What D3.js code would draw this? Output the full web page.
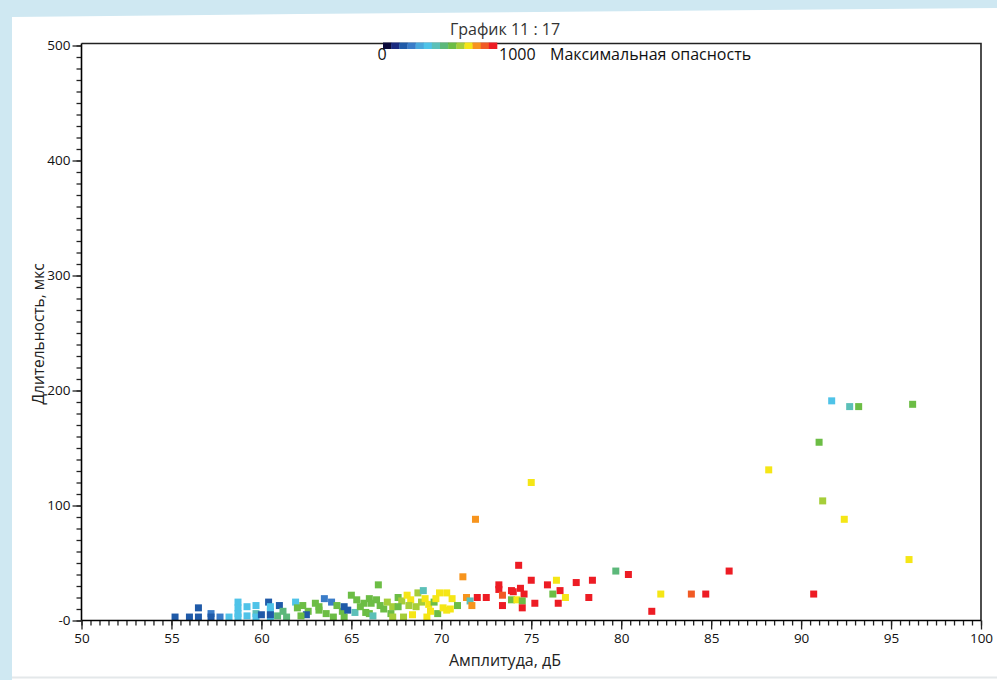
<!DOCTYPE html>
<html>
<head>
<meta charset="utf-8">
<title>График 11 : 17</title>
<script src="https://d3js.org/d3.v7.min.js"></script>
<style>
  body { margin: 0; background: #cfe8f2; }
  text { font-family: "Open Sans", "DejaVu Sans", sans-serif; }
</style>
</head>
<body>
<div id="chart"></div>
<script>
// Chart data
const amplitude = [
  55.2, 56.0, 56.5, 56.5, 57.2, 57.2, 57.7, 58.2, 58.7, 58.7, 58.7, 58.7,
  59.2, 59.2, 59.7, 59.7, 59.7, 60.0, 60.4, 60.5, 60.5, 60.5, 60.5,
  60.9, 61.0, 61.2, 61.4, 61.9, 62.0, 62.3, 62.6, 62.5, 62.2,
  63.0, 63.2, 63.5, 63.9, 63.2, 63.6, 64.0, 64.2, 64.5, 64.6, 64.6, 64.8,
  65.0, 65.3, 65.7, 66.0, 65.2, 65.8, 65.5, 66.0, 66.5, 66.1, 66.4, 66.6, 66.8, 66.2,
  67.0, 67.3, 67.2, 67.3, 67.6, 67.8, 67.6, 67.9, 68.1, 68.3, 68.2, 68.4,
  68.7, 68.9, 68.6, 69.0, 69.1, 69.3, 69.4, 69.2, 69.6, 69.7, 69.8, 69.9,
  70.3, 70.1, 70.3, 70.5, 70.6, 70.9,
  71.2, 71.4, 71.6, 71.7, 72.0, 71.9, 72.5,
  73.2, 73.2, 73.4, 73.9, 74.0, 74.4, 74.6, 74.3, 73.9, 74.2, 74.5, 73.4, 74.5,
  75.2, 75.0, 75.0, 75.9, 76.4, 76.6, 76.2, 76.9, 76.5, 77.5, 78.4, 78.2,
  79.7, 80.4, 81.7, 82.2, 83.9, 84.7, 86.0, 88.2, 90.7, 91.0, 91.2, 91.7,
  92.4, 92.7, 93.2, 96.0, 96.2
];
const duration = [
  3, 3, 11, 3, 6, 3, 3, 3, 16, 11, 6, 3,
  12, 4, 13, 6, 3, 5, 16, 12, 8, 3, 5,
  4, 13, 8, 3, 16, 11, 13, 8, 5, 4,
  15, 12, 19, 16, 9, 6, 3, 13, 8, 3, 12, 9,
  22, 18, 15, 19, 7, 7, 12, 6, 31, 15, 18, 13, 10, 4,
  16, 12, 6, 3, 20, 17, 12, 3, 22, 18, 13, 5,
  24, 16, 12, 26, 19, 14, 8, 3, 16, 19, 6, 24,
  24, 11, 9, 10, 19, 13,
  38, 20, 17, 13, 20, 88, 20,
  31, 27, 22, 26, 25, 28, 23, 48, 18, 18, 17, 13, 11,
  15, 35, 120, 31, 35, 26, 23, 20, 15, 33, 35, 20,
  43, 40, 8, 23, 23, 23, 43, 131, 23, 155, 104, 191,
  88, 186, 186, 53, 188
];
const danger = [
  180, 180, 180, 180, 250, 180, 250, 390, 390, 390, 390, 390,
  390, 390, 390, 460, 390, 180, 180, 390, 390, 390, 180,
  530, 180, 530, 530, 390, 600, 600, 600, 180, 600,
  600, 600, 250, 250, 600, 600, 600, 600, 600, 600, 180, 180,
  600, 600, 600, 600, 460, 600, 600, 600, 600, 600, 600, 600, 600, 460,
  680, 680, 600, 680, 600, 680, 600, 680, 750, 750, 680, 750,
  680, 680, 680, 460, 750, 750, 750, 750, 600, 750, 600, 750,
  750, 750, 750, 750, 750, 600,
  820, 820, 460, 820, 960, 820, 960,
  960, 960, 890, 960, 960, 960, 960, 960, 600, 750, 600, 960, 960,
  960, 960, 750, 960, 750, 960, 600, 750, 960, 960, 960, 960,
  530, 960, 960, 750, 890, 960, 960, 750, 960, 600, 680, 390,
  750, 460, 600, 750, 600
];

const xMajor = [50, 55, 60, 65, 70, 75, 80, 85, 90, 95, 100];
const yMajor = [0, 100, 200, 300, 400, 500];
const yTickLabels = ["-0", "100", "200", "300", "400", "500"];
const dangerColors = ["#0b0b3b", "#1a2a80", "#1f5aa8", "#3a7cc8", "#4aa8dc", "#4fc3e8", "#5cc0b8",
                      "#5cb87a", "#6cbd45", "#a6ce39", "#f5e616", "#f7941d", "#f15a24", "#ed1c24"];

const W = 997, H = 680;
const svg = d3.select("#chart").append("svg").attr("width", W).attr("height", H);

// page background (light blue border of the screenshot)
svg.append("rect").attr("width", W).attr("height", H).attr("fill", "#cfe8f2");
svg.append("path").attr("d", "M12,17 L300,14 L997,8 L997,680 L12,680 Z").attr("fill", "#ffffff");
svg.append("line").attr("x1", 12).attr("x2", W).attr("y1", 677.5).attr("y2", 677.5)
  .attr("stroke", "#e4e8ea").attr("stroke-width", 2);

const x = d3.scaleLinear().domain([50, 100]).range([81.5, 981]);
const y = d3.scaleLinear().domain([0, 500]).range([620.5, 45.5]);
const color = d3.scaleQuantize().domain([0, 1000]).range(dangerColors);

// title
svg.append("text").attr("x", 505).attr("y", 35).attr("text-anchor", "middle")
  .attr("font-size", 16).attr("fill", "#333").text("График 11 : 17");

// frame top and right
svg.append("path").attr("d", "M81.5,43.5 L981,43.5 L981,620.5")
  .attr("fill", "none").attr("stroke", "#222").attr("stroke-width", 1.6);

// points
const pts = amplitude.map((a, i) => ({a: a, d: duration[i], z: danger[i]}));
svg.append("g").selectAll("rect")
  .data(pts)
  .enter()
  .append("rect")
  .attr("x", d => x(d.a) - 3.5)
  .attr("y", d => y(d.d) - 3.5)
  .attr("width", 7)
  .attr("height", 7)
  .attr("fill", d => color(d.z));

// x axis: minor then major
const xMinor = d3.range(50, 100.01, 0.5);
svg.append("g").attr("transform", "translate(0,620.5)")
  .call(d3.axisBottom(x).tickValues(xMinor).tickSize(5).tickFormat(""))
  .call(g => g.select(".domain").remove());
svg.append("g").attr("transform", "translate(0,620.5)")
  .call(d3.axisBottom(x).tickValues(xMajor).tickSize(9).tickPadding(4).tickFormat(d3.format("d")))
  .call(g => g.select(".domain").attr("stroke-width", 1.6).attr("d", "M81.5,0H981"));

// y axis: minor then major
const yMinor = d3.range(0, 500.01, 10);
svg.append("g").attr("transform", "translate(81.5,0)")
  .call(d3.axisLeft(y).tickValues(yMinor).tickSize(5).tickFormat(""))
  .call(g => g.select(".domain").remove());
svg.append("g").attr("transform", "translate(81.5,0)")
  .call(d3.axisLeft(y).tickValues(yMajor).tickSize(9).tickPadding(2)
    .tickFormat((d, i) => yTickLabels[i]))
  .call(g => g.select(".domain").attr("stroke-width", 1.6).attr("d", "M0,43.5V620.5"));

svg.selectAll(".tick line").attr("stroke", "#222").attr("stroke-width", 1.3);
svg.selectAll(".tick text").attr("font-size", 13.5).attr("fill", "#111")
  .attr("font-family", "'Open Sans', sans-serif");

// axis titles
svg.append("text").attr("x", 505).attr("y", 666).attr("text-anchor", "middle")
  .attr("font-size", 16).attr("fill", "#222").text("Амплитуда, дБ");
svg.append("text").attr("transform", "translate(44,334) rotate(-90)").attr("text-anchor", "middle")
  .attr("font-size", 15.5).attr("fill", "#222").text("Длительность, мкс");

// colour legend
const lx = d3.scaleLinear().domain([0, dangerColors.length]).range([383, 497]);
svg.append("g").selectAll("rect")
  .data(dangerColors)
  .enter()
  .append("rect")
  .attr("x", (d, i) => lx(i))
  .attr("y", 42.5)
  .attr("width", (d, i) => lx(i + 1) - lx(i) + 0.3)
  .attr("height", 6.5)
  .attr("fill", d => d);
svg.append("text").attr("x", 382).attr("y", 60).attr("text-anchor", "middle")
  .attr("font-size", 16).attr("fill", "#111").text("0");
svg.append("text").attr("x", 499).attr("y", 60)
  .attr("font-size", 16).attr("fill", "#111").text("1000");
svg.append("text").attr("x", 550).attr("y", 60)
  .attr("font-size", 16).attr("fill", "#111").text("Максимальная опасность");
</script>
</body>
</html>
